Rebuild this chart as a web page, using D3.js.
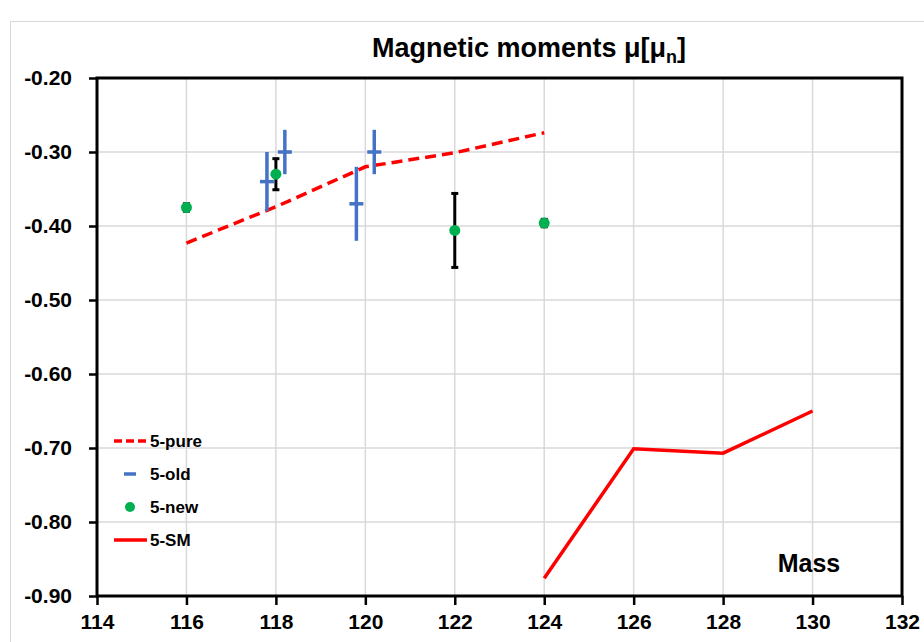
<!DOCTYPE html>
<html>
<head>
<meta charset="UTF-8">
<title>Magnetic moments</title>
<script src="https://d3js.org/d3.v7.min.js"></script>
<style>
  body { margin: 0; background: #fff; font-family: "Liberation Sans", Arial, sans-serif; }
  svg text { font-weight: bold; fill: #000; }
</style>
</head>
<body>
<svg id="chart" width="924" height="642"></svg>
<script>
// 5-pure (dashed red line)
const pureMass = [116, 118, 120, 122, 124];
const pureMu   = [-0.423, -0.374, -0.320, -0.301, -0.274];

// 5-old (blue dash markers with error bars)
const oldMass = [117.8, 118.2, 119.8, 120.2];
const oldMu   = [-0.34, -0.30, -0.37, -0.30];
const oldErr  = [0.04, 0.03, 0.05, 0.03];

// 5-new (green dots, black error bars)
const newMass = [116, 118, 122, 124];
const newMu   = [-0.375, -0.330, -0.406, -0.396];
const newErr  = [0.005, 0.021, 0.050, 0.005];

// 5-SM (solid red line)
const smMass = [124, 126, 128, 130];
const smMu   = [-0.876, -0.701, -0.707, -0.650];

const xTicks = [114, 116, 118, 120, 122, 124, 126, 128, 130, 132];
const yTicks = [-0.2, -0.3, -0.4, -0.5, -0.6, -0.7, -0.8, -0.9];

const svg = d3.select("#chart");
const pL = 97, pR = 902, pT = 78, pB = 596;

const x = d3.scaleLinear().domain([114, 132]).range([pL, pR]);
const y = d3.scaleLinear().domain([-0.9, -0.2]).range([pB, pT]);

// chart area border
svg.append("rect").attr("x", 10.5).attr("y", 21.5).attr("width", 930).attr("height", 640)
  .attr("fill", "none").attr("stroke", "#d9d9d9");

// gridlines
svg.append("g").selectAll("line").data(yTicks).join("line")
  .attr("x1", pL).attr("x2", pR).attr("y1", d => y(d)).attr("y2", d => y(d))
  .attr("stroke", "#d9d9d9").attr("stroke-width", 1.5);
svg.append("g").selectAll("line").data(xTicks).join("line")
  .attr("x1", d => x(d)).attr("x2", d => x(d)).attr("y1", pT).attr("y2", pB)
  .attr("stroke", "#d9d9d9").attr("stroke-width", 1.5);

// axes
const yFmt = d => d.toFixed(2);  // plain hyphen minus, as in the original
const xAxis = svg.append("g").attr("transform", `translate(0,${pB})`)
  .call(d3.axisBottom(x).tickValues(xTicks).tickSize(9).tickPadding(9).tickFormat(d3.format("d")));
const yAxis = svg.append("g").attr("transform", `translate(${pL},0)`)
  .call(d3.axisLeft(y).tickValues(yTicks).tickSize(8).tickPadding(17).tickFormat(yFmt));
[xAxis, yAxis].forEach(g => {
  g.select(".domain").remove();
  g.selectAll(".tick line").attr("stroke", "#000").attr("stroke-width", 2.5);
  g.selectAll("text").style("font-size", "21px").style("font-family", "'Liberation Sans', Arial, sans-serif");
});

// plot frame
svg.append("rect").attr("x", pL).attr("y", pT).attr("width", pR - pL).attr("height", pB - pT)
  .attr("fill", "none").attr("stroke", "#000").attr("stroke-width", 3);

const line = d3.line().x(d => x(d[0])).y(d => y(d[1]));

// 5-pure
svg.append("path").datum(d3.zip(pureMass, pureMu)).attr("d", line)
  .attr("fill", "none").attr("stroke", "#ff0000").attr("stroke-width", 3.5).attr("stroke-dasharray", "11,6");

// 5-SM
svg.append("path").datum(d3.zip(smMass, smMu)).attr("d", line)
  .attr("fill", "none").attr("stroke", "#ff0000").attr("stroke-width", 3.5);

// 5-old
const oldG = svg.append("g");
d3.zip(oldMass, oldMu, oldErr).forEach(([m, v, e]) => {
  oldG.append("line").attr("x1", x(m)).attr("x2", x(m)).attr("y1", y(v + e)).attr("y2", y(v - e))
    .attr("stroke", "#4472c4").attr("stroke-width", 3.5);
  oldG.append("line").attr("x1", x(m) - 7).attr("x2", x(m) + 7).attr("y1", y(v)).attr("y2", y(v))
    .attr("stroke", "#4472c4").attr("stroke-width", 3.5);
});

// 5-new
const newG = svg.append("g");
d3.zip(newMass, newMu, newErr).forEach(([m, v, e]) => {
  newG.append("line").attr("x1", x(m)).attr("x2", x(m)).attr("y1", y(v + e)).attr("y2", y(v - e))
    .attr("stroke", "#000").attr("stroke-width", 3);
  [v + e, v - e].forEach(c => newG.append("line")
    .attr("x1", x(m) - 3.5).attr("x2", x(m) + 3.5).attr("y1", y(c)).attr("y2", y(c))
    .attr("stroke", "#000").attr("stroke-width", 3));
  newG.append("circle").attr("cx", x(m)).attr("cy", y(v)).attr("r", 5.5).attr("fill", "#00b050");
});

// title
const title = svg.append("text").attr("x", 529).attr("y", 57).attr("text-anchor", "middle")
  .style("font-size", "27px");
title.append("tspan").text("Magnetic moments \u03bc[\u03bc");
title.append("tspan").attr("dy", 6).style("font-size", "18px").text("n");
title.append("tspan").attr("dy", -6).text("]");

// axis name
svg.append("text").attr("x", 809).attr("y", 572).attr("text-anchor", "middle")
  .style("font-size", "25px").text("Mass");

// legend
const legend = svg.append("g");
const ly = [441, 474, 507, 540];
legend.append("line").attr("x1", 114).attr("x2", 147).attr("y1", ly[0]).attr("y2", ly[0])
  .attr("stroke", "#ff0000").attr("stroke-width", 3.5).attr("stroke-dasharray", "8,4");
legend.append("line").attr("x1", 124).attr("x2", 136).attr("y1", ly[1]).attr("y2", ly[1])
  .attr("stroke", "#4472c4").attr("stroke-width", 3.5);
legend.append("circle").attr("cx", 130).attr("cy", ly[2]).attr("r", 5).attr("fill", "#00b050");
legend.append("line").attr("x1", 114).attr("x2", 147).attr("y1", ly[3]).attr("y2", ly[3])
  .attr("stroke", "#ff0000").attr("stroke-width", 3.5);
["5-pure", "5-old", "5-new", "5-SM"].forEach((t, i) => {
  legend.append("text").attr("x", 150).attr("y", ly[i] + 6).style("font-size", "17px").text(t);
});
</script>
</body>
</html>
